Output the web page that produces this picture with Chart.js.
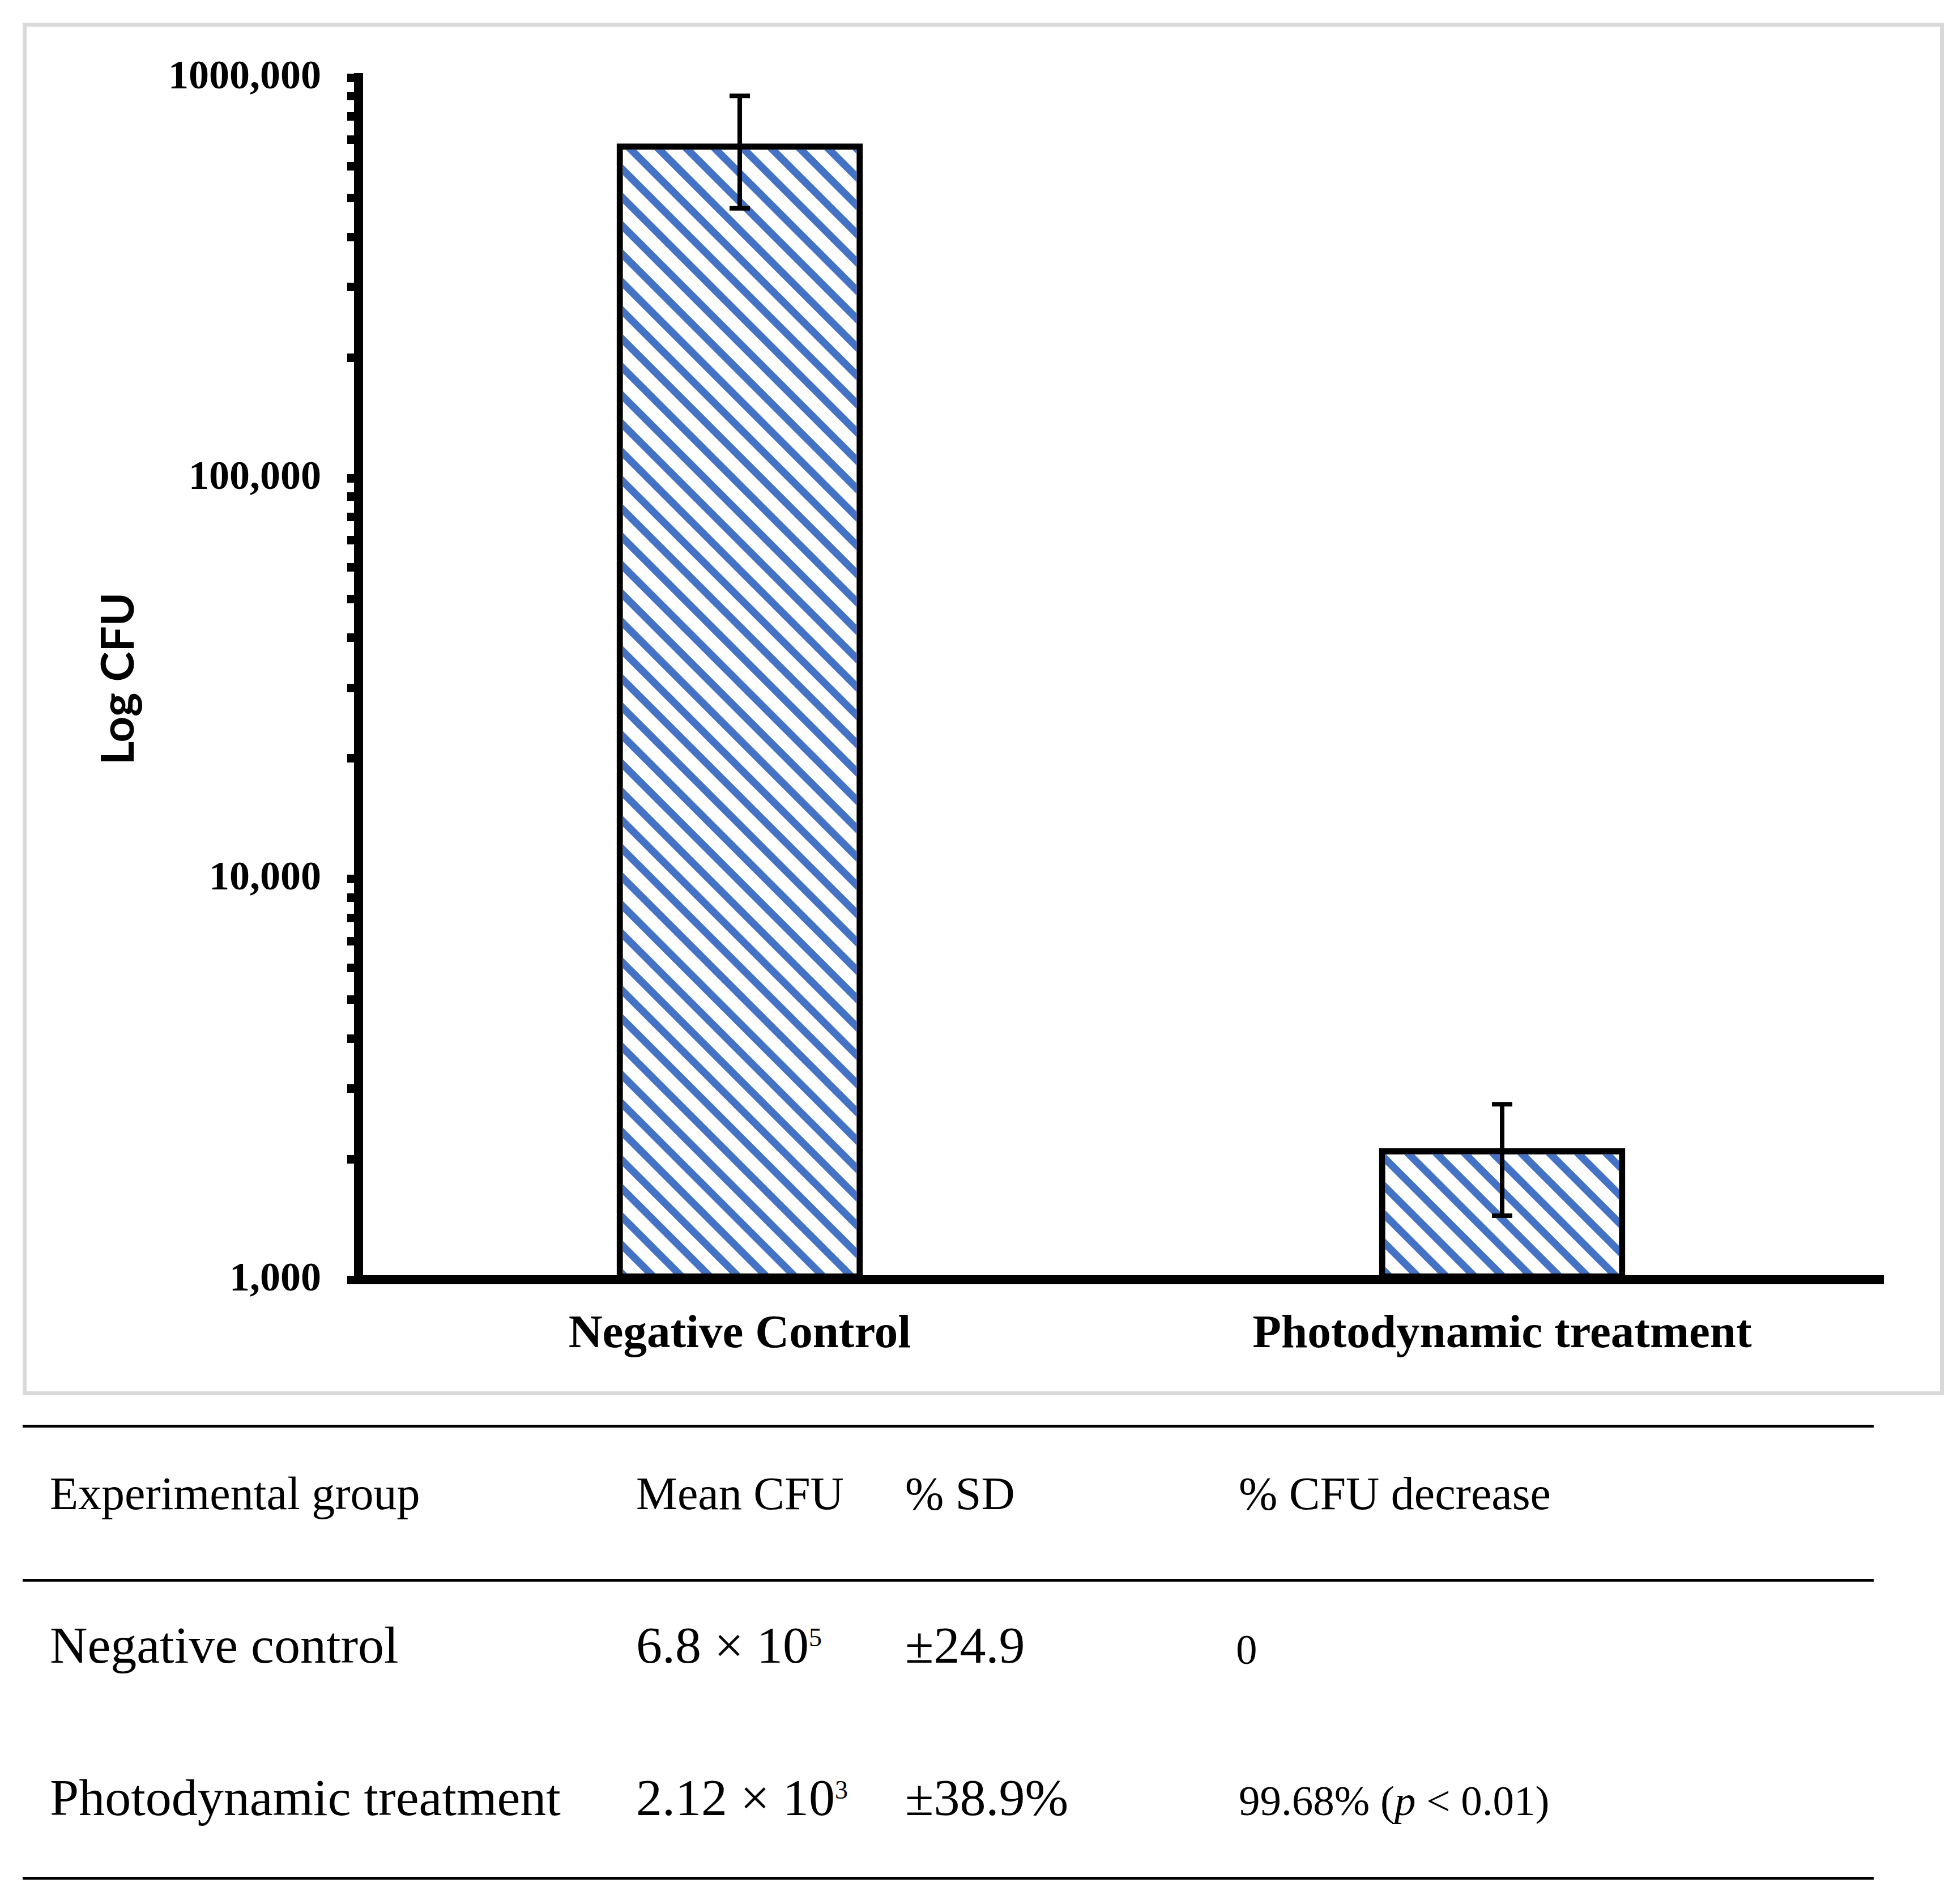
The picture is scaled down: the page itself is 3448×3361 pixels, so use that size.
<!DOCTYPE html>
<html>
<head>
<meta charset="utf-8">
<script src="https://cdn.jsdelivr.net/npm/chart.js@4.4.0/dist/chart.umd.min.js"></script>
<style>
  html, body { margin: 0; padding: 0; background: #fff; }
  body { width: 3448px; height: 3361px; position: relative; overflow: hidden; }
  #frame {
    position: absolute; left: 40px; top: 40px; width: 3392px; height: 2423px;
    border: 7px solid #d9d9d9; box-sizing: border-box;
  }
  #wrap { position: absolute; left: 0; top: 0; width: 3448px; height: 2500px; }
  .rule { position: absolute; left: 40px; width: 3268px; height: 5px; background: #000; }
  .cell {
    position: absolute; font-family: "Liberation Serif", serif; line-height: 1;
    white-space: nowrap; color: #000;
  }
  .hd { font-size: 82px; }
  .big { font-size: 92px; }
  .sm { font-size: 75px; }
  sup { font-size: 0.5em; vertical-align: 0.62em; line-height: 0; }
</style>
</head>
<body>
<div id="frame"></div>
<div id="wrap"><canvas id="chart"></canvas></div>

<div class="rule" style="top:2515px"></div>
<div class="rule" style="top:2787px"></div>
<div class="rule" style="top:3313px"></div>

<div class="cell hd" style="left:88px; top:2596px">Experimental group</div>
<div class="cell hd" style="left:1123px; top:2596px">Mean CFU</div>
<div class="cell hd" style="left:1598px; top:2596px">% SD</div>
<div class="cell hd" style="left:2187px; top:2596px">% CFU decrease</div>

<div class="cell big" style="left:88px; top:2858px">Negative control</div>
<div class="cell big" style="left:1123px; top:2858px">6.8 × 10<sup>5</sup></div>
<div class="cell big" style="left:1598px; top:2858px">±24.9</div>
<div class="cell sm" style="left:2182px; top:2874px">0</div>

<div class="cell big" style="left:88px; top:3127px">Photodynamic treatment</div>
<div class="cell big" style="left:1123px; top:3127px">2.12 × 10<sup>3</sup></div>
<div class="cell big" style="left:1598px; top:3127px">±38.9%</div>
<div class="cell sm" style="left:2187px; top:3141px">99.68% (<i>p</i> &lt; 0.01)</div>

<script>
// data
const groups = ["Negative Control", "Photodynamic treatment"];
const meanCfu = [685000, 2130];
const errHigh = [900000, 2740];
const errLow = [472000, 1445];
const decades = [1000, 10000, 100000, 1000000];
const yTickLabels = ["1,000", "10,000", "100,000", "1000,000"];

// diagonal blue hatch, lines run past the tile so corners join up
function makeHatch() {
  const c = document.createElement("canvas");
  c.width = 50;
  c.height = 50;
  const g = c.getContext("2d");
  g.strokeStyle = "#4472C4";
  g.lineWidth = 13;
  g.beginPath();
  [-50, 0, 50].forEach(dx => {
    g.moveTo(dx - 20, -20);
    g.lineTo(dx + 70, 70);
  });
  g.stroke();
  return g.createPattern(c, "repeat");
}

const errorBars = {
  id: "errorBars",
  afterDatasetsDraw(chart) {
    const ctx = chart.ctx;
    const y = chart.scales.y;
    const meta = chart.getDatasetMeta(0);
    ctx.save();
    ctx.strokeStyle = "#000";
    ctx.lineWidth = 8;
    meta.data.forEach((bar, i) => {
      const top = y.getPixelForValue(errHigh[i]);
      const bot = y.getPixelForValue(errLow[i]);
      ctx.beginPath();
      ctx.moveTo(bar.x, top);
      ctx.lineTo(bar.x, bot);
      ctx.moveTo(bar.x - 18, top);
      ctx.lineTo(bar.x + 18, top);
      ctx.moveTo(bar.x - 18, bot);
      ctx.lineTo(bar.x + 18, bot);
      ctx.stroke();
    });
    ctx.restore();
  }
};

new Chart(document.getElementById("chart"), {
  type: "bar",
  data: {
    labels: groups,
    datasets: [{
      data: meanCfu,
      backgroundColor: makeHatch(),
      borderColor: "#000",
      borderWidth: 11,
      borderSkipped: false,
      barPercentage: 0.323,
      categoryPercentage: 1
    }]
  },
  options: {
    responsive: true,
    maintainAspectRatio: false,
    devicePixelRatio: 1,
    animation: false,
    layout: { padding: { top: 137, right: 123, left: 0, bottom: 0 } },
    plugins: { legend: { display: false }, tooltip: { enabled: false } },
    scales: {
      x: {
        z: 1,
        grid: { display: false, drawTicks: false },
        border: { display: true, color: "#000", width: 16 },
        ticks: {
          color: "#000",
          padding: 48,
          maxRotation: 0,
          font: { family: "Liberation Serif", weight: "bold", size: 83 }
        },
        afterFit(scale) { scale.height = 241; }
      },
      y: {
        type: "logarithmic",
        min: 1000,
        max: 1000000,
        grid: {
          drawOnChartArea: false,
          color: "#000",
          tickColor: "#000",
          tickLength: 20,
          tickWidth: 15,
          lineWidth: 15
        },
        border: { display: true, color: "#000", width: 16 },
        ticks: {
          autoSkip: false,
          color: "#000",
          padding: 46,
          font: { family: "Liberation Serif", weight: "bold", size: 72 },
          callback(value) {
            const i = decades.indexOf(value);
            return i >= 0 ? yTickLabels[i] : "";
          }
        },
        afterBuildTicks(scale) {
          const t = [];
          decades.forEach((d, k) => {
            for (let m = 1; m <= 9; m++) {
              if (k === decades.length - 1 && m > 1) break;
              t.push({ value: d * m });
            }
          });
          scale.ticks = t;
        },
        title: {
          display: true,
          text: "Log CFU",
          color: "#000",
          font: { family: "Lato", weight: "bold", size: 80 },
          padding: { top: 162, bottom: 0 }
        },
        afterFit(scale) { scale.width = 633; }
      }
    }
  },
  plugins: [errorBars]
});
</script>
</body>
</html>
